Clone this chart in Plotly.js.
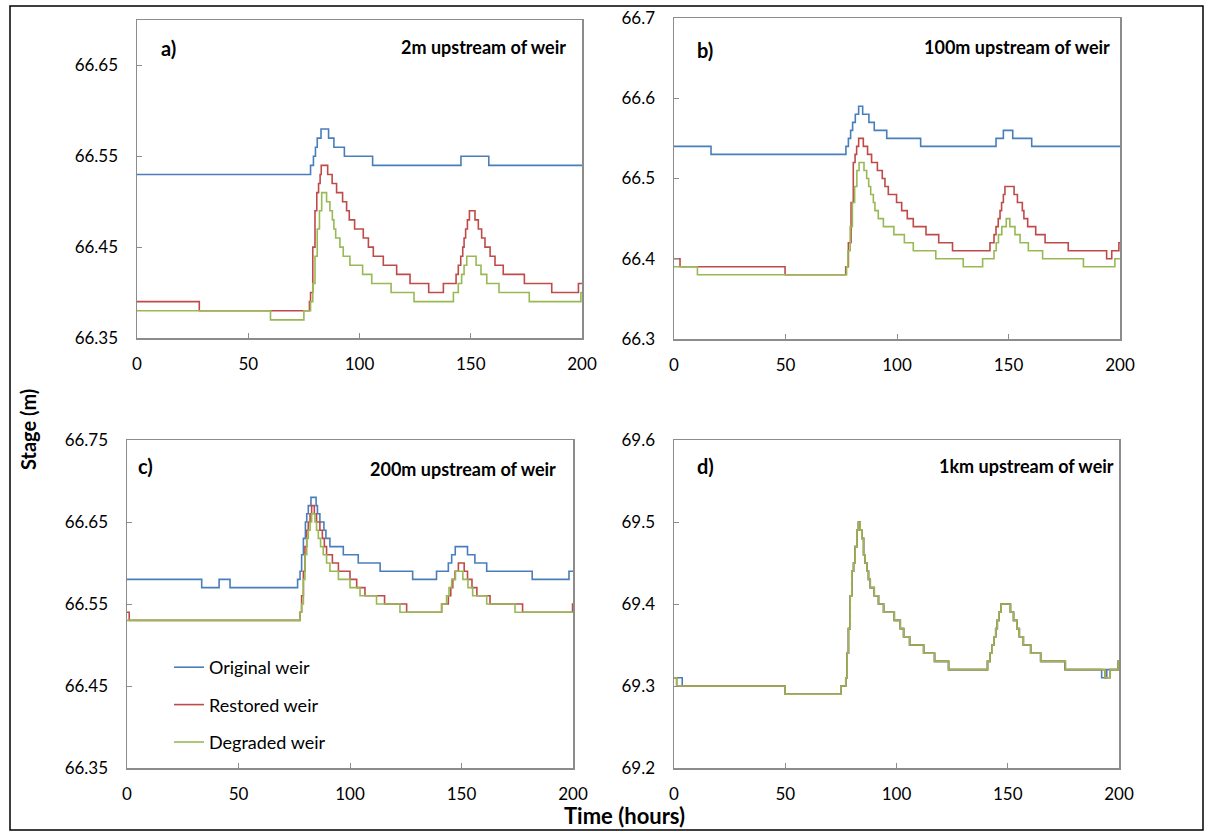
<!DOCTYPE html>
<html>
<head>
<meta charset="utf-8">
<script src="https://cdn.plot.ly/plotly-3.0.1.min.js"></script>
<style>html,body{margin:0;padding:0;background:#fff;}#chart{width:1213px;height:836px;}</style>
</head>
<body>
<div id="chart"></div>
<script>
// ---------- Data (time in hours, stage in m) ----------
const seriesNames = ["Original weir", "Restored weir", "Degraded weir"];
const panelLabels = ["a)", "b)", "c)", "d)"];
const panelTitles = ["2m upstream of weir", "100m upstream of weir", "200m upstream of weir", "1km upstream of weir"];
const xTickVals = [0, 50, 100, 150, 200];

// Panel a: 2m upstream
const tA_orig = [0, 78.0, 79.3, 80.2, 81.0, 82.7, 86.1, 88.5, 93.2, 105.9, 145.6, 158.1, 200];
const vA_orig = [66.53, 66.54, 66.55, 66.56, 66.57, 66.58, 66.57, 66.56, 66.55, 66.54, 66.55, 66.54, 66.54];
const tA_rest = [0, 28, 77.5, 78, 79, 80, 80.8, 81.6, 82.3, 82.8, 85.7, 87.7, 89.7, 92.4, 94.2, 95.4, 97.8, 101.7, 104.0, 106.2, 110.7, 116.7, 122.7, 131.1, 137.7, 143.4, 144.4, 145.5, 146.4, 147.0, 147.7, 148.5, 149.4, 151.9, 153.4, 154.9, 156.4, 158.7, 160.9, 164.6, 174.1, 186.4, 198.4, 200];
const vA_rest = [66.39, 66.38, 66.39, 66.40, 66.45, 66.49, 66.51, 66.52, 66.53, 66.54, 66.53, 66.52, 66.51, 66.50, 66.49, 66.48, 66.47, 66.46, 66.45, 66.44, 66.43, 66.42, 66.41, 66.40, 66.41, 66.42, 66.43, 66.44, 66.45, 66.46, 66.47, 66.48, 66.49, 66.48, 66.47, 66.46, 66.45, 66.44, 66.43, 66.42, 66.41, 66.40, 66.41, 66.41];
const tA_deg = [0, 60, 75, 78, 79, 80, 81, 82, 83, 85.2, 86.7, 87.8, 88.5, 89.3, 91.2, 92.7, 95.7, 101.4, 105.5, 114.2, 124.5, 142.2, 144.4, 145.9, 147, 148.2, 152.4, 154.6, 157.2, 162.7, 176.3, 199.5, 200];
const vA_deg = [66.38, 66.37, 66.38, 66.39, 66.41, 66.44, 66.47, 66.49, 66.51, 66.50, 66.49, 66.48, 66.47, 66.46, 66.45, 66.44, 66.43, 66.42, 66.41, 66.40, 66.39, 66.40, 66.41, 66.42, 66.43, 66.44, 66.43, 66.42, 66.41, 66.40, 66.39, 66.40, 66.40];

// Panel b: 100m upstream
const tB_orig = [0, 16.6, 77.1, 78.2, 79.2, 80.1, 81.3, 82.8, 84.6, 87.4, 89.8, 95.4, 110.6, 144.4, 147.7, 151.9, 160.4, 200];
const vB_orig = [66.54, 66.53, 66.54, 66.55, 66.56, 66.57, 66.58, 66.59, 66.58, 66.57, 66.56, 66.55, 66.54, 66.55, 66.56, 66.55, 66.54, 66.54];
const tB_rest = [0, 2.7, 49.8, 77.0, 78.2, 79.4, 80.4, 81.2, 81.9, 82.8, 84.9, 86.8, 88.6, 91.2, 93.4, 94.6, 96.1, 99.8, 102.1, 104.6, 107.3, 113.0, 118.7, 124.9, 141.7, 143.5, 144.4, 145.4, 146.2, 146.9, 147.7, 148.4, 152.5, 154.0, 156.2, 156.9, 158.6, 162.2, 166.4, 176.8, 194.0, 196.3, 199.5, 200];
const vB_rest = [66.40, 66.39, 66.38, 66.39, 66.42, 66.47, 66.52, 66.53, 66.54, 66.55, 66.54, 66.53, 66.52, 66.51, 66.50, 66.49, 66.48, 66.47, 66.46, 66.45, 66.44, 66.43, 66.42, 66.41, 66.42, 66.43, 66.44, 66.45, 66.46, 66.47, 66.48, 66.49, 66.48, 66.47, 66.46, 66.45, 66.44, 66.43, 66.42, 66.41, 66.40, 66.41, 66.42, 66.42];
const tB_deg = [0, 10.5, 77.4, 78, 79, 80, 81, 82, 83, 85.2, 86.4, 87.3, 88.2, 89.4, 90.1, 91.6, 93.9, 98.6, 103.3, 107.3, 117.4, 129.7, 138.4, 143.5, 144.5, 145.5, 147, 149, 150.6, 152.9, 155.2, 158.9, 165.3, 183.6, 197.7, 200];
const vB_deg = [66.39, 66.38, 66.39, 66.41, 66.44, 66.47, 66.49, 66.51, 66.52, 66.51, 66.50, 66.49, 66.48, 66.47, 66.46, 66.45, 66.44, 66.43, 66.42, 66.41, 66.40, 66.39, 66.40, 66.41, 66.42, 66.43, 66.44, 66.45, 66.44, 66.43, 66.42, 66.41, 66.40, 66.39, 66.40, 66.40];

// Panel c: 200m upstream
const tC_orig = [0, 33.5, 41.3, 46.2, 76.5, 77.6, 78.3, 79.1, 80.0, 80.6, 81.3, 82.5, 84.8, 85.4, 86.5, 88.3, 89.2, 91.0, 97.0, 103.7, 113.5, 128.1, 138.8, 144.1, 145.6, 147.2, 152.7, 156.0, 161.3, 181.7, 198.2, 200];
const vC_orig = [66.58, 66.57, 66.58, 66.57, 66.58, 66.59, 66.61, 66.63, 66.65, 66.66, 66.67, 66.68, 66.67, 66.66, 66.65, 66.64, 66.63, 66.62, 66.61, 66.60, 66.59, 66.58, 66.59, 66.60, 66.61, 66.62, 66.61, 66.60, 66.59, 66.58, 66.59, 66.59];
const tC_rest = [0, 1, 77.6, 78.3, 79.1, 79.8, 80.6, 81.3, 82.1, 82.8, 84.0, 85.0, 86.5, 87.6, 88.5, 89.5, 92.1, 94.8, 100.0, 103.0, 106.7, 115.5, 125.4, 141.1, 144.1, 145.2, 146.1, 147.1, 148.6, 151.2, 152.7, 154.7, 156.9, 162.8, 177.4, 199.8, 200];
const vC_rest = [66.54, 66.53, 66.54, 66.56, 66.59, 66.62, 66.64, 66.65, 66.66, 66.67, 66.66, 66.65, 66.64, 66.63, 66.62, 66.61, 66.60, 66.59, 66.58, 66.57, 66.56, 66.55, 66.54, 66.55, 66.56, 66.57, 66.58, 66.59, 66.60, 66.59, 66.58, 66.57, 66.56, 66.55, 66.54, 66.55, 66.55];
const tC_deg = [0, 77.6, 78.3, 79.1, 79.8, 80.6, 81.3, 82.1, 82.8, 84.3, 85.0, 85.8, 86.8, 88.0, 89.5, 91.0, 94.8, 100.0, 104.5, 111.9, 122.4, 141.1, 143.3, 144.4, 145.6, 147.3, 150.6, 152.9, 155.0, 161.3, 174.0, 200];
const vC_deg = [66.53, 66.54, 66.55, 66.58, 66.61, 66.63, 66.64, 66.65, 66.66, 66.65, 66.64, 66.63, 66.62, 66.61, 66.60, 66.59, 66.58, 66.57, 66.56, 66.55, 66.54, 66.55, 66.56, 66.57, 66.58, 66.59, 66.58, 66.57, 66.56, 66.55, 66.54, 66.54];

// Panel d: 1km upstream
const tD_orig = [0, 3.7, 49.9, 75.0, 77.2, 77.8, 78.4, 79.2, 79.9, 80.7, 81.4, 82.2, 82.9, 83.7, 84.4, 85.2, 85.9, 86.7, 87.4, 88.2, 90.0, 91.9, 94.2, 99.0, 101.7, 103.2, 105.9, 112.2, 117.1, 123.4, 140.9, 142.0, 143.0, 143.8, 144.6, 145.3, 146.0, 147.0, 151.2, 152.6, 154.1, 155.2, 157.0, 160.3, 164.8, 175.7, 192.2, 194.5, 199.6, 200];
const vD_orig = [69.31, 69.30, 69.29, 69.30, 69.31, 69.34, 69.37, 69.41, 69.44, 69.45, 69.47, 69.49, 69.50, 69.49, 69.48, 69.46, 69.45, 69.44, 69.43, 69.42, 69.41, 69.40, 69.39, 69.38, 69.37, 69.36, 69.35, 69.34, 69.33, 69.32, 69.33, 69.34, 69.35, 69.36, 69.37, 69.38, 69.39, 69.40, 69.39, 69.38, 69.37, 69.36, 69.35, 69.34, 69.33, 69.32, 69.31, 69.32, 69.33, 69.33];
const tD_rest = [0, 1.2, 49.9, 75.0, 77.2, 77.8, 78.4, 79.2, 79.9, 80.7, 81.4, 82.2, 82.9, 83.7, 84.4, 85.2, 85.9, 86.7, 87.4, 88.2, 90.0, 91.9, 94.2, 99.0, 101.7, 103.2, 105.9, 112.2, 117.1, 123.4, 140.9, 142.0, 143.0, 143.8, 144.6, 145.3, 146.0, 147.0, 151.2, 152.6, 154.1, 155.2, 157.0, 160.3, 164.8, 175.9, 193.7, 196.0, 199.6, 200];
const vD_rest = [69.31, 69.30, 69.29, 69.30, 69.31, 69.34, 69.37, 69.41, 69.44, 69.45, 69.47, 69.49, 69.50, 69.49, 69.48, 69.46, 69.45, 69.44, 69.43, 69.42, 69.41, 69.40, 69.39, 69.38, 69.37, 69.36, 69.35, 69.34, 69.33, 69.32, 69.33, 69.34, 69.35, 69.36, 69.37, 69.38, 69.39, 69.40, 69.39, 69.38, 69.37, 69.36, 69.35, 69.34, 69.33, 69.32, 69.31, 69.32, 69.33, 69.33];
const tD_deg = [0, 1.2, 49.9, 75.0, 77.2, 77.8, 78.4, 79.2, 79.9, 80.7, 81.4, 82.2, 82.9, 83.7, 84.4, 85.2, 85.9, 86.7, 87.4, 88.2, 90.0, 91.9, 94.2, 99.0, 101.7, 103.2, 105.9, 112.2, 117.1, 123.4, 140.9, 142.0, 143.0, 143.8, 144.6, 145.3, 146.0, 147.0, 151.2, 152.6, 154.1, 155.2, 157.0, 160.3, 164.8, 175.9, 193.7, 196.0, 199.6, 200];
const vD_deg = [69.31, 69.30, 69.29, 69.30, 69.31, 69.34, 69.37, 69.41, 69.44, 69.45, 69.47, 69.49, 69.50, 69.49, 69.48, 69.46, 69.45, 69.44, 69.43, 69.42, 69.41, 69.40, 69.39, 69.38, 69.37, 69.36, 69.35, 69.34, 69.33, 69.32, 69.33, 69.34, 69.35, 69.36, 69.37, 69.38, 69.39, 69.40, 69.39, 69.38, 69.37, 69.36, 69.35, 69.34, 69.33, 69.32, 69.31, 69.32, 69.33, 69.33];

// ---------- Styling ----------
const W = 1213, H = 836;
const colors = ["#4a7ebb", "#be4b48", "#98b954"];
const FONT = "Lato, 'Open Sans', sans-serif";
const axisGray = "#8c8c8c";

const panels = [
  {t: [tA_orig, tA_rest, tA_deg], v: [vA_orig, vA_rest, vA_deg], px: [137, 582], py: [20, 338], yr: [66.35, 66.70], tick0: 66.35, fmt: ".2f"},
  {t: [tB_orig, tB_rest, tB_deg], v: [vB_orig, vB_rest, vB_deg], px: [674, 1120], py: [18, 339], yr: [66.3, 66.7], tick0: 66.3, fmt: ".1f"},
  {t: [tC_orig, tC_rest, tC_deg], v: [vC_orig, vC_rest, vC_deg], px: [127, 573], py: [440, 768], yr: [66.35, 66.75], tick0: 66.35, fmt: ".2f"},
  {t: [tD_orig, tD_rest, tD_deg], v: [vD_orig, vD_rest, vD_deg], px: [674, 1119], py: [440, 768], yr: [69.2, 69.6], tick0: 69.2, fmt: ".1f"}
];

const traces = [];
const layout = {
  width: W, height: H,
  margin: {l: 0, r: 0, t: 0, b: 0},
  paper_bgcolor: "#fff", plot_bgcolor: "#fff",
  font: {family: FONT, size: 17, color: "#000"},
  showlegend: true,
  legend: {x: 169 / W, y: 1 - 649 / H, xanchor: "left", yanchor: "top",
           bgcolor: "rgba(0,0,0,0)", font: {size: 18, family: FONT, color: "#000"},
           tracegroupgap: 11, itemwidth: 30},
  annotations: [], shapes: []
};

panels.forEach((p, i) => {
  const sfx = i === 0 ? "" : String(i + 1);
  const xd = [p.px[0] / W, p.px[1] / W];
  const yd = [1 - p.py[1] / H, 1 - p.py[0] / H];
  layout["xaxis" + sfx] = {
    domain: xd, anchor: "y" + sfx, range: [0, 200], tickvals: xTickVals,
    ticks: "inside", ticklen: 5, tickwidth: 1, tickcolor: axisGray,
    showline: true, mirror: true, linecolor: axisGray, linewidth: 1.5,
    showgrid: false, zeroline: false, ticklabelstandoff: 10,
    tickfont: {size: 17, family: FONT, color: "#000"}, fixedrange: true
  };
  layout["yaxis" + sfx] = {
    domain: yd, anchor: "x" + sfx, range: p.yr, tick0: p.tick0, dtick: 0.1, tickformat: p.fmt,
    ticks: "inside", ticklen: 5, tickwidth: 1, tickcolor: axisGray,
    showline: true, mirror: true, linecolor: axisGray, linewidth: 1.5,
    showgrid: false, zeroline: false, ticklabelstandoff: 14,
    tickfont: {size: 17, family: FONT, color: "#000"}, fixedrange: true
  };
  for (let s = 0; s < 3; s++) {
    traces.push({
      type: "scatter", mode: "lines", x: p.t[s], y: p.v[s],
      xaxis: "x" + sfx, yaxis: "y" + sfx,
      name: seriesNames[s], legendgroup: "g" + s, showlegend: i === 2,
      line: {color: colors[s], width: 1.6, shape: "hv"},
      hoverinfo: "skip"
    });
  }
});

// Panel letters & titles
const labelPos = [[168, 48], [705, 50], [145, 466], [705, 466]];
const titlePos = [[568, 47], [1112, 47], [558, 469], [1116, 466]];
panelLabels.forEach((lab, i) => {
  layout.annotations.push({text: "<b>" + lab + "</b>", xref: "paper", yref: "paper",
    x: labelPos[i][0] / W, y: 1 - labelPos[i][1] / H, xanchor: "center", yanchor: "middle",
    showarrow: false, font: {size: 20, family: FONT, color: "#000"}});
  layout.annotations.push({text: "<b>" + panelTitles[i] + "</b>", xref: "paper", yref: "paper",
    x: titlePos[i][0] / W, y: 1 - titlePos[i][1] / H, xanchor: "right", yanchor: "middle",
    showarrow: false, font: {size: 18, family: FONT, color: "#000"}});
});
// Shared axis titles
layout.annotations.push({text: "<b>Stage (m)</b>", xref: "paper", yref: "paper",
  x: 28 / W, y: 1 - 430 / H, xanchor: "center", yanchor: "middle", textangle: -90,
  showarrow: false, font: {size: 20, family: FONT, color: "#000"}});
layout.annotations.push({text: "<b>Time (hours)</b>", xref: "paper", yref: "paper",
  x: 624 / W, y: 1 - 815 / H, xanchor: "center", yanchor: "middle",
  showarrow: false, font: {size: 22, family: FONT, color: "#000"}});

// Outer frame
layout.shapes.push({type: "rect", xref: "paper", yref: "paper",
  x0: 10 / W, x1: 1203 / W, y0: 1 - 830 / H, y1: 1 - 6 / H,
  line: {color: "#000", width: 1.5}, fillcolor: "rgba(0,0,0,0)", layer: "below"});

Plotly.newPlot("chart", traces, layout, {displayModeBar: false, staticPlot: true});
</script>
</body>
</html>
